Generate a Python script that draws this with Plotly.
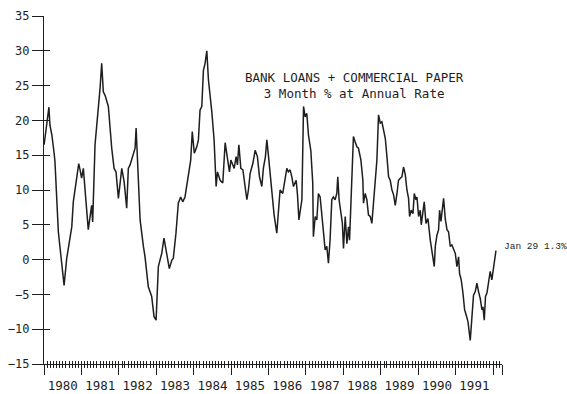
import plotly.graph_objects as go

# Weekly-ish readings of bank loans + commercial paper growth
# (3 month % change at annual rate)
dates = [
    "1980-01-02", "1980-01-20", "1980-02-18", "1980-02-28", "1980-03-18", "1980-04-07",
    "1980-04-17", "1980-05-20", "1980-06-22", "1980-07-15", "1980-08-10", "1980-09-11",
    "1980-09-28", "1980-10-13", "1980-11-16", "1980-12-05", "1980-12-18",
    "1981-01-02", "1981-01-19", "1981-02-21", "1981-03-08", "1981-04-10", "1981-04-20",
    "1981-05-13", "1981-06-14", "1981-07-01", "1981-07-17", "1981-08-02", "1981-08-19",
    "1981-09-20", "1981-10-23", "1981-11-15", "1981-12-04", "1981-12-27",
    "1982-01-29", "1982-02-21", "1982-03-18", "1982-04-03", "1982-04-20", "1982-05-16",
    "1982-06-08", "1982-06-18", "1982-07-01", "1982-07-27", "1982-08-28", "1982-09-13",
    "1982-10-15", "1982-11-17", "1982-12-10", "1982-12-30",
    "1983-01-21", "1983-02-23", "1983-03-17", "1983-04-12", "1983-05-08", "1983-06-01",
    "1983-06-16", "1983-07-12", "1983-08-04", "1983-08-27", "1983-09-16", "1983-10-08",
    "1983-11-09", "1983-12-03", "1983-12-18",
    "1984-01-07", "1984-01-31", "1984-02-16", "1984-03-03", "1984-03-20", "1984-04-05",
    "1984-04-21", "1984-05-08", "1984-05-24", "1984-06-26", "1984-07-18", "1984-08-07",
    "1984-08-20", "1984-09-15", "1984-10-11", "1984-11-03", "1984-11-25", "1984-12-15",
    "1984-12-29",
    "1985-01-17", "1985-01-30", "1985-02-18", "1985-03-03", "1985-03-17", "1985-04-05",
    "1985-04-25", "1985-05-10", "1985-06-03", "1985-06-18", "1985-07-05", "1985-07-31",
    "1985-08-23", "1985-09-14", "1985-10-04", "1985-10-27", "1985-11-11", "1985-12-01",
    "1985-12-15", "1985-12-30",
    "1986-01-16", "1986-02-11", "1986-02-24", "1986-03-22", "1986-04-07", "1986-04-23",
    "1986-05-19", "1986-06-11", "1986-06-28", "1986-07-13", "1986-07-30", "1986-08-16",
    "1986-09-01", "1986-09-27", "1986-10-10", "1986-10-24", "1986-11-06", "1986-11-22",
    "1986-12-08", "1986-12-24",
    "1987-01-09", "1987-01-25", "1987-02-17", "1987-03-08", "1987-03-14", "1987-04-01",
    "1987-04-17", "1987-05-02", "1987-05-19", "1987-06-05", "1987-06-20", "1987-07-07",
    "1987-07-23", "1987-08-08", "1987-08-24", "1987-09-10", "1987-09-25", "1987-10-12",
    "1987-10-29", "1987-11-07", "1987-11-20", "1987-12-07", "1987-12-22",
    "1988-01-02", "1988-01-19", "1988-02-04", "1988-02-20", "1988-03-01", "1988-03-14",
    "1988-04-08", "1988-04-25", "1988-05-12", "1988-05-27", "1988-06-20", "1988-07-09",
    "1988-07-15", "1988-08-01", "1988-08-17", "1988-09-02", "1988-09-19", "1988-10-05",
    "1988-10-21", "1988-11-07", "1988-11-23", "1988-12-09", "1988-12-26",
    "1989-01-11", "1989-01-27", "1989-02-13", "1989-03-01", "1989-03-17", "1989-04-02",
    "1989-04-19", "1989-05-05", "1989-05-21", "1989-06-07", "1989-06-22", "1989-07-09",
    "1989-07-25", "1989-08-10", "1989-08-27", "1989-09-12", "1989-09-28", "1989-10-08",
    "1989-10-24", "1989-11-10", "1989-11-23", "1989-12-09", "1989-12-19",
    "1990-01-04", "1990-01-20", "1990-01-30", "1990-02-16", "1990-02-28", "1990-03-17",
    "1990-04-05", "1990-04-28", "1990-05-20", "1990-06-06", "1990-06-16", "1990-07-02",
    "1990-07-18", "1990-07-28", "1990-08-10", "1990-08-23", "1990-09-05", "1990-09-21",
    "1990-10-08", "1990-10-23", "1990-11-09", "1990-11-25", "1990-12-11", "1990-12-28",
    "1991-01-13", "1991-01-29", "1991-02-08", "1991-02-24", "1991-03-13", "1991-03-29",
    "1991-04-14", "1991-05-01", "1991-05-23", "1991-06-09", "1991-06-24", "1991-07-11",
    "1991-07-27", "1991-08-12", "1991-08-29", "1991-09-14", "1991-09-24", "1991-10-07",
    "1991-10-19", "1991-11-02", "1991-11-18", "1991-12-04", "1991-12-20",
    "1992-01-29",
]

pct = [
    16.5, 18.6, 21.9, 19.3, 17.9, 15.5,
    14.1, 4.0, -0.3, -3.7, 0.2, 3.5,
    4.7, 8.3, 11.7, 13.8, 12.9,
    11.7, 13.1, 7.8, 4.3, 7.8, 5.4,
    16.5, 21.3, 24.6, 28.2, 24.1, 23.6,
    22.0, 16.0, 13.1, 12.6, 8.8,
    13.1, 11.2, 7.4, 13.1, 13.6, 14.7,
    16.0, 18.9, 13.8, 5.7, 1.9, 0.4,
    -3.9, -5.3, -8.2, -8.7,
    -1.0, 0.9, 3.1, 0.9, -1.3, -0.1,
    0.2, 3.8, 8.1, 9.0, 8.3, 9.0,
    12.4, 14.3, 18.4,
    15.3, 16.2, 17.2, 21.5, 22.0, 27.2,
    28.2, 30.0, 25.8, 21.2, 17.2, 10.5,
    12.6, 11.4, 11.0, 16.8, 14.8, 12.6,
    14.3,
    13.6, 13.1, 14.8, 13.6, 16.5, 13.1,
    12.9, 11.0, 8.6, 10.0, 12.4, 13.8,
    15.7, 14.8, 11.9, 10.5, 13.1, 14.8,
    17.2, 15.0,
    12.4, 8.1, 6.4, 3.8, 6.7, 10.0,
    9.5, 11.4, 13.1, 12.6, 12.9, 11.9,
    10.5, 11.4, 9.3, 5.7, 7.1, 8.6,
    22.0, 20.5,
    21.0, 17.9, 15.7, 11.0, 3.3, 6.2,
    5.7, 9.5, 9.0, 6.7, 4.3, 1.4,
    1.9, -0.5, 2.8, 8.6, 9.0, 8.6,
    9.5, 11.9, 8.6, 6.7, 5.2,
    1.6, 6.2, 2.3, 4.7, 2.8, 7.6,
    17.7, 16.9, 16.2, 16.0, 14.3, 11.4,
    8.1, 9.5, 8.6, 6.4, 6.2, 5.2,
    8.1, 11.4, 14.3, 20.8, 19.6,
    19.8, 18.6, 17.4, 14.8, 11.9, 11.4,
    10.0, 9.3, 7.8, 9.5, 11.4, 11.7,
    11.9, 13.3, 12.2, 10.0, 8.8, 6.2,
    7.1, 6.6, 9.5, 8.6, 9.0,
    6.2, 7.1, 5.0, 7.1, 8.3, 5.2,
    5.9, 2.8, 0.7, -1.0, 1.9, 3.5,
    4.3, 7.1, 5.5, 7.4, 8.8, 5.9,
    4.3, 4.0, 1.9, 2.1, 1.4, 0.9,
    -1.0, 0.4, -2.0, -2.9, -4.8, -7.2,
    -8.0, -8.9, -11.6, -8.7, -5.1, -4.6,
    -3.4, -4.6, -5.6, -7.2, -6.8, -8.7,
    -5.3, -4.8, -3.4, -1.7, -2.9,
    1.3,
]

title_lines = ["BANK LOANS + COMMERCIAL PAPER", "3 Month % at Annual Rate"]
last_label = "Jan 29"

x_range = ["1980-01-01", "1992-03-28"]
y_range = [-15, 35]

ink = "#1e1e1e"
mono = "DejaVu Sans Mono"

fig = go.Figure()

fig.add_trace(go.Scatter(
    x=dates, y=pct, mode="lines",
    line=dict(color=ink, width=1.5),
    hoverinfo="skip", showlegend=False,
))
# helper traces so the overlay axes (inner tick halves, end mark) get drawn
fig.add_trace(go.Scatter(
    x=dates[:1], y=pct[:1], xaxis="x2", yaxis="y2", mode="lines",
    line=dict(width=0), hoverinfo="skip", showlegend=False,
))
fig.add_trace(go.Scatter(
    x=dates[:1], y=pct[:1], xaxis="x3", yaxis="y2", mode="lines",
    line=dict(width=0), hoverinfo="skip", showlegend=False,
))

common_x = dict(type="date", range=x_range, showgrid=False, zeroline=False,
                automargin=False)
common_y = dict(range=y_range, showgrid=False, zeroline=False,
                automargin=False)

fig.update_layout(
    width=567, height=394,
    margin=dict(l=44, r=65, t=16, b=30),
    paper_bgcolor="white", plot_bgcolor="white",
    xaxis=dict(
        **common_x,
        showline=True, linecolor=ink, linewidth=1.3,
        ticks="outside", ticklen=10, tickwidth=1.2, tickcolor=ink,
        dtick="M12", tick0="1980-01-01",
        ticklabelmode="period", tickformat="%Y",
        tickfont=dict(family=mono, size=12.5, color=ink),
        minor=dict(dtick="M1", tick0="1980-01-01", ticks="outside",
                   ticklen=3, tickwidth=1, tickcolor=ink, showgrid=False),
    ),
    xaxis2=dict(
        **common_x,
        overlaying="x", anchor="y2", side="bottom",
        showline=False, showticklabels=False,
        ticks="inside", ticklen=3, tickwidth=1.2, tickcolor=ink,
        dtick="M12", tick0="1980-01-01",
        minor=dict(dtick="M1", tick0="1980-01-01", ticks="inside",
                   ticklen=3, tickwidth=1, tickcolor=ink, showgrid=False),
    ),
    xaxis3=dict(
        **common_x,
        overlaying="x", anchor="y2", side="bottom",
        showline=False, showticklabels=False,
        tickmode="array", tickvals=[x_range[1]],
        ticks="outside", ticklen=10, tickwidth=1.2, tickcolor=ink,
    ),
    yaxis=dict(
        **common_y,
        showline=True, linecolor=ink, linewidth=1.3,
        ticks="outside", ticklen=11, tickwidth=1.2, tickcolor=ink,
        dtick=5, tick0=0,
        tickfont=dict(family=mono, size=12, color=ink),
    ),
    yaxis2=dict(
        **common_y,
        overlaying="y", anchor="x2", side="left",
        showline=False, showticklabels=False,
        ticks="inside", ticklen=6, tickwidth=1.2, tickcolor=ink,
        dtick=5, tick0=0,
    ),
    annotations=[
        dict(
            text="<br>".join(title_lines),
            xref="paper", yref="paper", x=0.677, y=0.799,
            xanchor="center", yanchor="middle", showarrow=False,
            font=dict(family=mono, size=12.5, color=ink),
        ),
        dict(
            text=f"{last_label} {pct[-1]:.1f}%",
            x=dates[-1], y=pct[-1], xref="x", yref="y",
            xanchor="left", yanchor="middle", xshift=6, yshift=4,
            showarrow=False,
            font=dict(family="Liberation Mono", size=9.5, color=ink),
        ),
    ],
)

fig.write_html("out.html")
